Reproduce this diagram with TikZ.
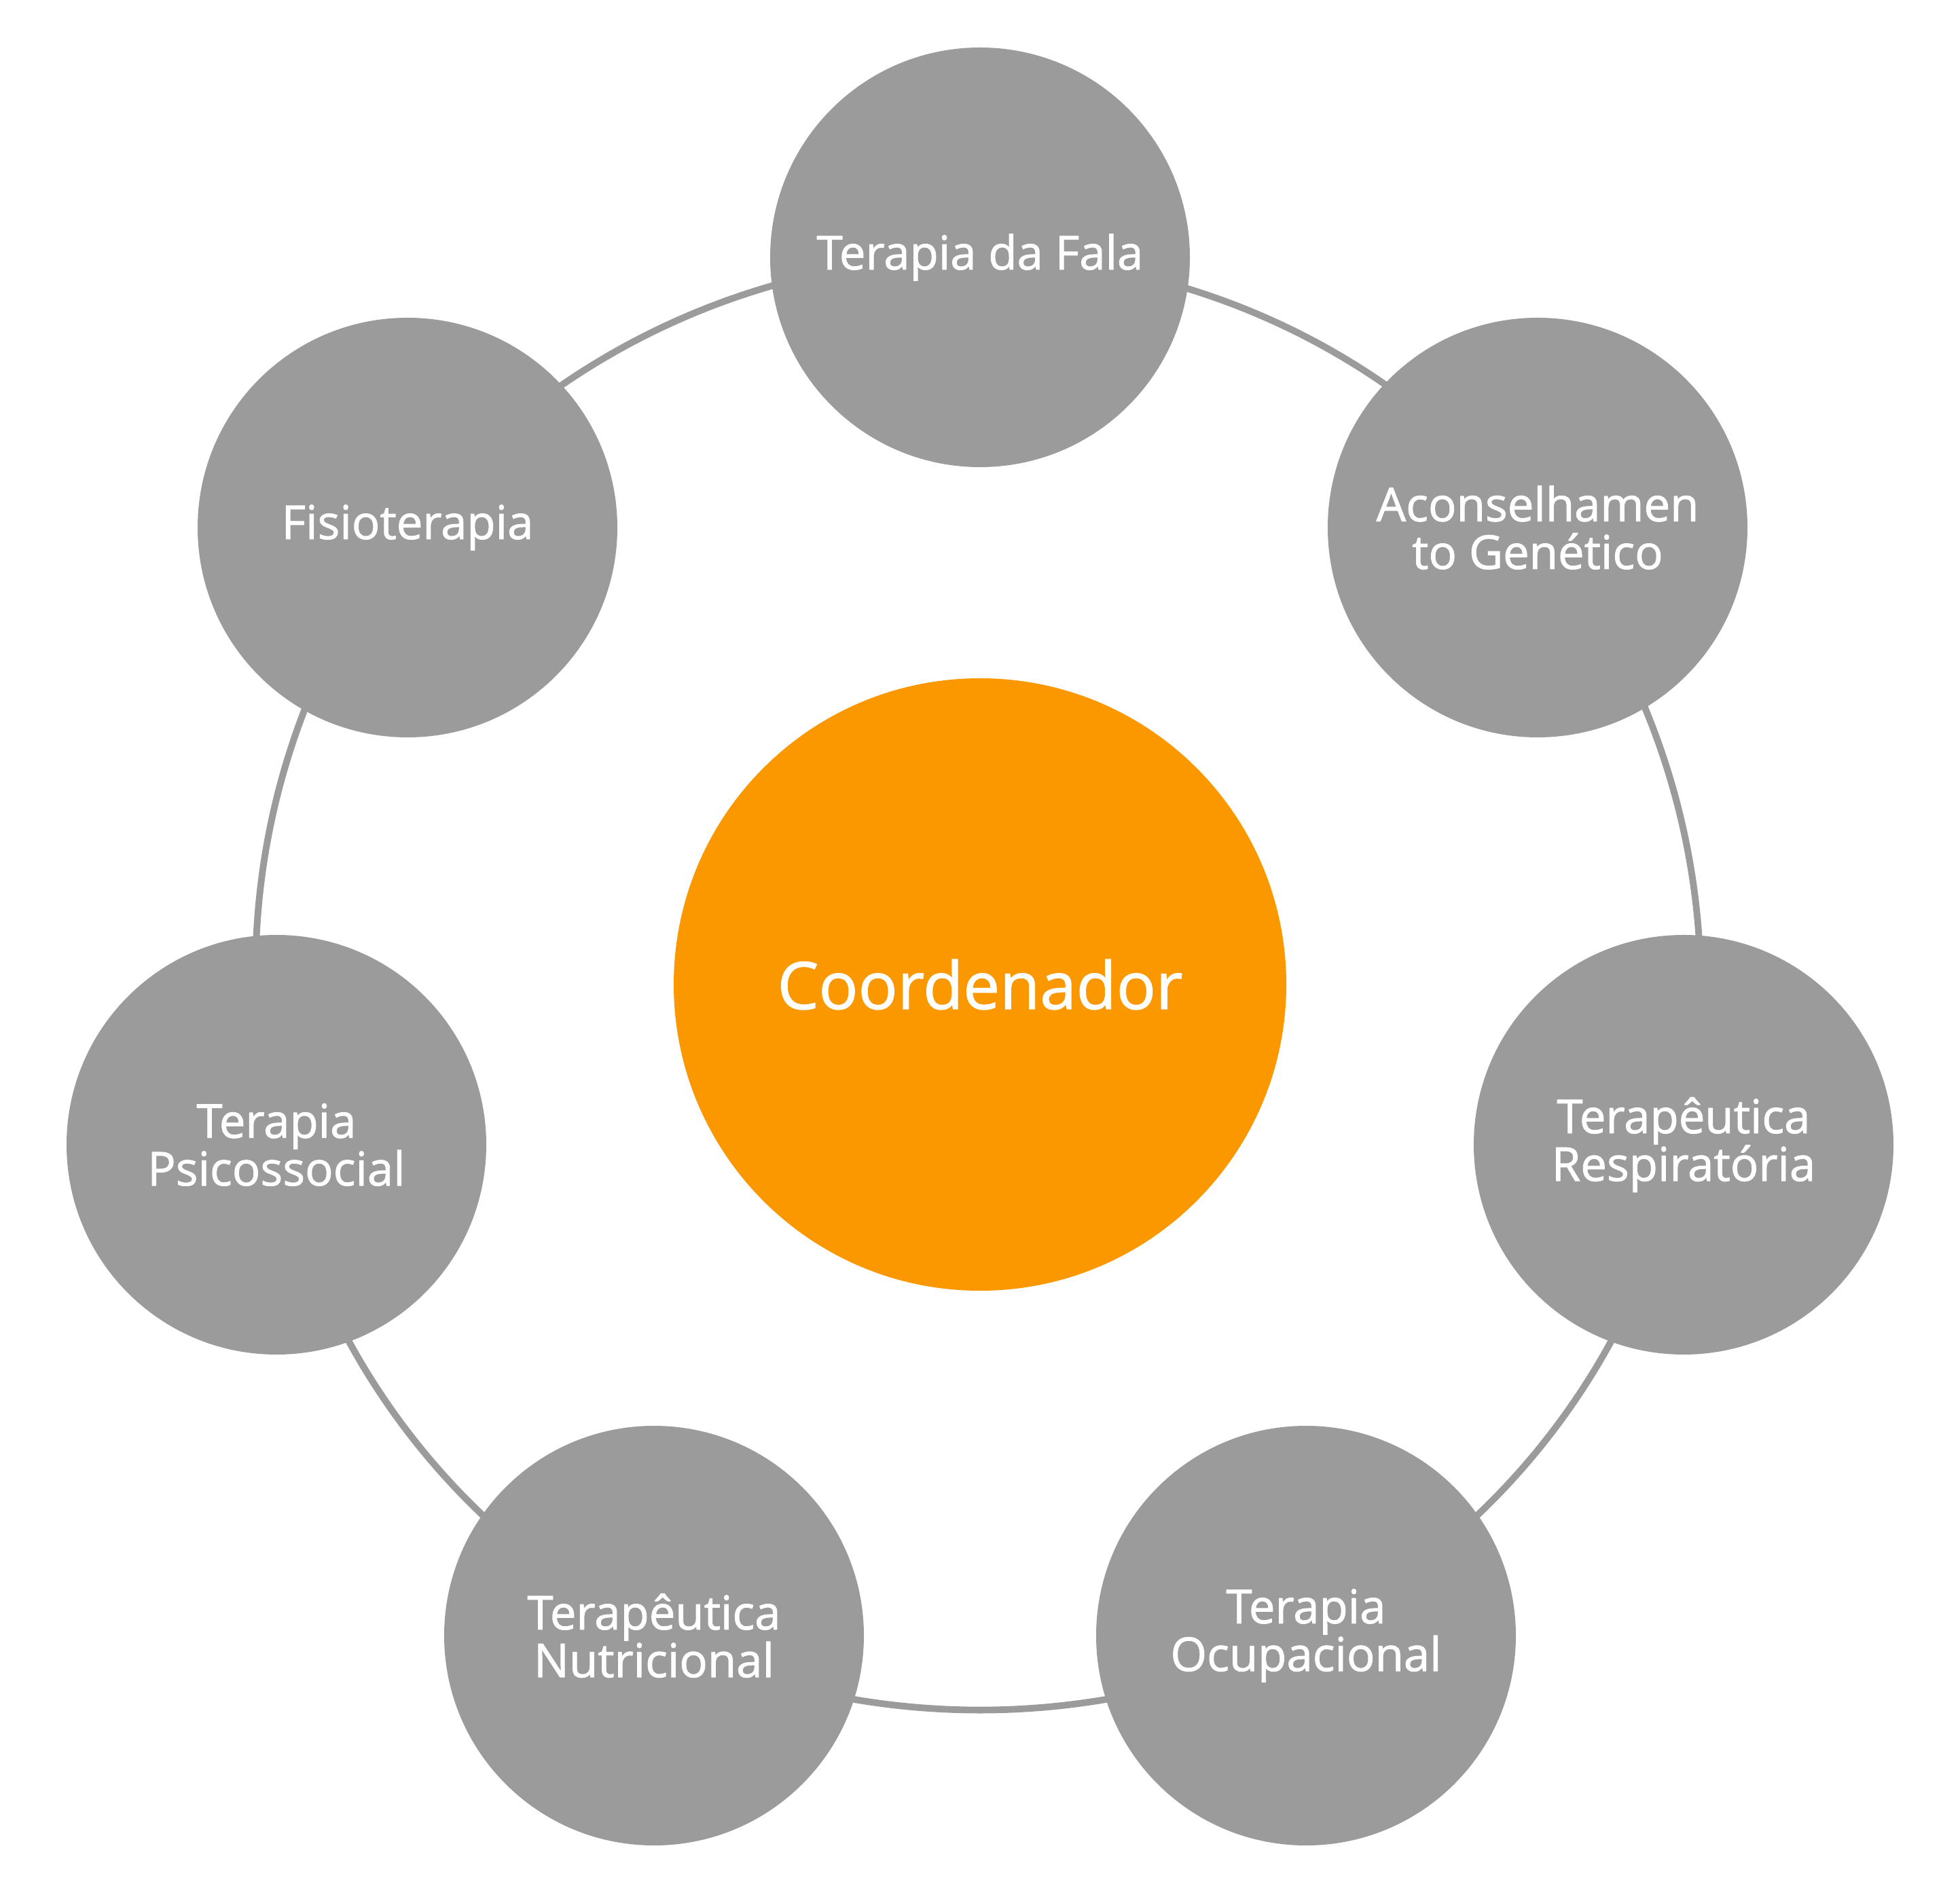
\documentclass[tikz,border=0pt]{standalone}
\usepackage{fontspec}
\setmainfont{Open Sans}
\newfontfamily\labelfont[FakeBold=1.3]{Open Sans}
\usepackage{tikz}
\usetikzlibrary{backgrounds}

\definecolor{ringgray}{RGB}{155,155,155}
\definecolor{coordorange}{RGB}{251,152,0}

\begin{document}
\begin{tikzpicture}[
    area/.style={circle, fill=ringgray, text=white, minimum size=6.18cm, inner sep=0pt, align=center, font=\labelfont\fontsize{19.6}{20}\selectfont},
    hub/.style={circle, fill=coordorange, text=white, minimum size=9.02cm, inner sep=0pt, font=\labelfont\fontsize{27.4}{30}\selectfont},
    ring/.style={draw=ringgray, line width=2.8pt, bend left=25.7, looseness=0.9}
]
                    \useasboundingbox (0,0) rectangle (28.86,27.90);
                    % Nodes
                    \node[hub] (coord) at (14.43,13.40) {Coordenador};
                    \node[area] (fala) at (14.43,24.11) {Terapia da Fala};
                    \node[area] (acons) at (22.64,20.13) {Aconselhamen\\to Genético};
                    \node[area] (resp) at (24.79,11.04) {Terapêutica\\Respiratória};
                    \node[area] (ocup) at (19.23,3.81) {Terapia\\Ocupacional};
                    \node[area] (nutri) at (9.63,3.81) {Terapêutica\\Nutricional};
                    \node[area] (psico) at (4.07,11.04) {Terapia\\Psicossocial};
                    \node[area] (fisio) at (6.00,20.13) {Fisioterapia};
                    % Edges
                    \begin{scope}[on background layer]
                    \draw[ring] (fala.center) to (acons.center);
                    \draw[ring] (acons.center) to (resp.center);
                    \draw[ring] (resp.center) to (ocup.center);
                    \draw[ring] (ocup.center) to (nutri.center);
                    \draw[ring] (nutri.center) to (psico.center);
                    \draw[ring] (psico.center) to (fisio.center);
                    \draw[ring] (fisio.center) to (fala.center);
                    \end{scope}
                \end{tikzpicture}
\end{document}
